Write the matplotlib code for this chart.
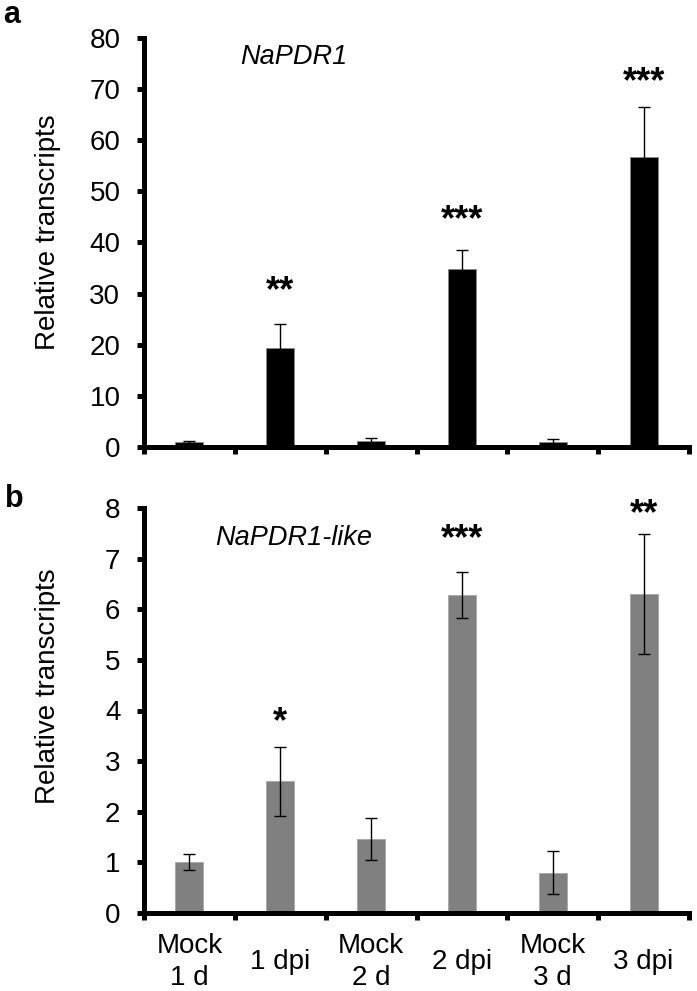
import numpy as np
import matplotlib
matplotlib.use('Agg')
import matplotlib.pyplot as plt

plt.rcParams['font.family'] = ['Liberation Sans', 'DejaVu Sans']

categories = ['Mock\n1 d', '1 dpi', 'Mock\n2 d', '2 dpi', 'Mock\n3 d', '3 dpi']

# panel a: NaPDR1
pdr1_mean = [0.9, 19.4, 1.1, 34.8, 0.9, 56.8]
pdr1_err = [0.2, 4.7, 0.6, 3.8, 0.7, 9.7]
pdr1_stars = ['', '**', '', '***', '', '***']
pdr1_star_y = [0, 30.3, 0, 44.3, 0, 71.2]

# panel b: NaPDR1-like
like_mean = [1.0, 2.6, 1.46, 6.28, 0.8, 6.3]
like_err = [0.16, 0.68, 0.42, 0.46, 0.42, 1.18]
like_stars = ['', '*', '', '***', '', '**']
like_star_y = [0, 3.75, 0, 7.37, 0, 7.86]

W, H = 697, 991
fig = plt.figure(figsize=(W / 100, H / 100), dpi=100)


def px_axes(left, top, right, bottom):
    return fig.add_axes([left / W, 1 - bottom / H, (right - left) / W, (bottom - top) / H])


ax1 = px_axes(144, 38, 689, 447)
ax2 = px_axes(144, 508, 689, 913)

x = np.arange(len(categories)) + 0.5
bar_w = 0.31


def style(ax, ymax, step, show_labels):
    ax.set_xlim(0, len(categories))
    ax.set_ylim(0, ymax)
    ax.set_yticks(np.arange(0, ymax + step / 2, step))
    ax.set_xticks(np.arange(0, len(categories) + 1))
    ax.set_xticklabels([])
    for s in ['top', 'right']:
        ax.spines[s].set_visible(False)
    for s in ['left', 'bottom']:
        ax.spines[s].set_linewidth(3.6)
    ax.tick_params(axis='both', which='major', direction='out', length=5,
                   width=3.6, labelsize=20, pad=12)
    if show_labels:
        ax.set_xticks(x, minor=True)
        ax.set_xticklabels(categories, minor=True)
        ax.tick_params(axis='x', which='minor', length=0, pad=35, labelsize=20)
        for lab in ax.get_xticklabels(minor=True):
            lab.set_verticalalignment('center')
            lab.set_linespacing(1.3)
    ax.set_ylabel('Relative transcripts', fontsize=20)


ax1.bar(x, pdr1_mean, width=bar_w, color='black', edgecolor='#888888',
        linewidth=0.6, zorder=2)
ax1.errorbar(x, pdr1_mean, yerr=pdr1_err, fmt='none', ecolor='black',
             elinewidth=1, capsize=4.5, capthick=1, zorder=3)
for xi, s, yi in zip(x, pdr1_stars, pdr1_star_y):
    if s:
        ax1.text(xi, yi, s, ha='center', va='center', fontsize=26,
                 fontweight='bold')
ax1.text(0.176, 0.953, 'NaPDR1', transform=ax1.transAxes, ha='left',
         va='center', fontsize=19.5, style='italic')
style(ax1, 80, 10, False)
ax1.yaxis.set_label_coords(-0.152, 0.525)

ax2.bar(x, like_mean, width=bar_w, color='#808080', edgecolor='#a6a6a6',
        linewidth=0.6, zorder=2)
ax2.errorbar(x, like_mean, yerr=like_err, fmt='none', ecolor='black',
             elinewidth=1, capsize=4.5, capthick=1, zorder=3)
for xi, s, yi in zip(x, like_stars, like_star_y):
    if s:
        ax2.text(xi, yi, s, ha='center', va='center', fontsize=26,
                 fontweight='bold')
ax2.text(0.130, 0.926, 'NaPDR1-like', transform=ax2.transAxes, ha='left',
         va='center', fontsize=19.5, style='italic')
style(ax2, 8, 1, True)
ax2.yaxis.set_label_coords(-0.152, 0.56)

fig.text(3 / W, 1 - 23 / H, 'a', fontsize=22, fontweight='bold', ha='left',
         va='baseline')
fig.text(5 / W, 1 - 507 / H, 'b', fontsize=22, fontweight='bold', ha='left',
         va='baseline')

fig.savefig('out.png', dpi=100)
